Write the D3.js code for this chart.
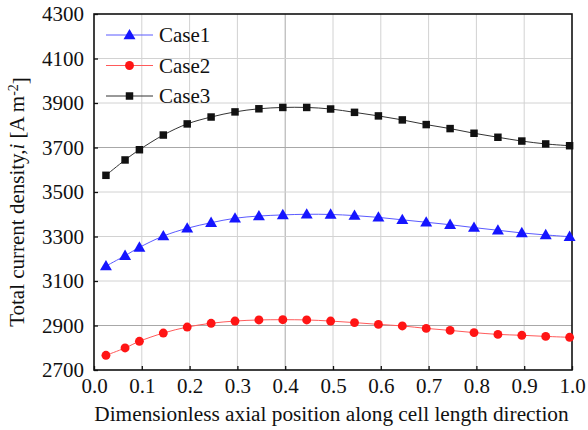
<!DOCTYPE html>
<meta charset="utf-8">
<script src="https://d3js.org/d3.v7.min.js"></script>
<style>
  body { margin: 0; background: #fff; }
  text { font-family: "Liberation Serif", "Times New Roman", serif; fill: #111; }
</style>
<div id="chart"></div>
<script>
// data
const xPos = [0.025, 0.065, 0.095, 0.145, 0.195, 0.245, 0.295, 0.345, 0.395, 0.445, 0.495,
              0.545, 0.595, 0.645, 0.695, 0.745, 0.795, 0.845, 0.895, 0.945, 0.995];
const case1 = [3167, 3214, 3251, 3302, 3337, 3362, 3382, 3392, 3397, 3400, 3399,
               3394, 3386, 3375, 3364, 3353, 3340, 3328, 3316, 3307, 3299];
const case2 = [2766, 2799, 2829, 2866, 2893, 2910, 2920, 2925, 2926, 2925, 2920,
               2913, 2905, 2898, 2887, 2878, 2868, 2860, 2856, 2851, 2847];
const case3 = [3575, 3644, 3690, 3756, 3806, 3837, 3860, 3874, 3880, 3880, 3873,
               3858, 3842, 3824, 3803, 3785, 3764, 3746, 3729, 3716, 3708];
const xTicks = [0, 0.1, 0.2, 0.3, 0.4, 0.5, 0.6, 0.7, 0.8, 0.9, 1.0];
const yTicks = [2700, 2900, 3100, 3300, 3500, 3700, 3900, 4100, 4300];
const seriesNames = ["Case1", "Case2", "Case3"];

let W = 588, H = 430;
let margin = {top: 14, right: 16, bottom: 60, left: 94};
let width = W - margin.left - margin.right,
    height = H - margin.top - margin.bottom;
let fs = "21px";

let svg = d3.select("#chart").append("svg")
    .attr("width", W).attr("height", H);
let g = svg.append("g")
    .attr("transform", "translate(" + margin.left + "," + margin.top + ")");

let x = d3.scaleLinear().domain([0, 1]).range([0, width]);
let y = d3.scaleLinear().domain([2700, 4300]).range([height, 0]);

// grid
g.append("g").selectAll("line").data(xTicks.slice(1, -1)).enter().append("line")
  .attr("x1", d => x(d)).attr("x2", d => x(d))
  .attr("y1", 0).attr("y2", height)
  .attr("stroke", d => d === 0.4 ? "#a8a8a8" : "#d2d2d2").attr("stroke-width", 1);
g.append("g").selectAll("line").data(yTicks.slice(1, -1)).enter().append("line")
  .attr("x1", 0).attr("x2", width)
  .attr("y1", d => y(d)).attr("y2", d => y(d))
  .attr("stroke", d => (d === 2900 || d === 3700) ? "#a8a8a8" : "#d2d2d2").attr("stroke-width", 1);

// axes, ticks pointing inward
let xAxis = g.append("g")
  .attr("transform", "translate(0," + height + ")")
  .call(d3.axisBottom(x).tickValues(xTicks).tickFormat(d3.format(".1f"))
        .tickSizeInner(-4).tickSizeOuter(0).tickPadding(8));
let yAxis = g.append("g")
  .call(d3.axisLeft(y).tickValues(yTicks).tickFormat(d3.format("d"))
        .tickSizeInner(-4).tickSizeOuter(0).tickPadding(10));
[xAxis, yAxis].forEach(a => {
  a.select(".domain").remove();
  a.selectAll("line").attr("stroke", "#111").attr("stroke-width", 1.3);
  a.selectAll("text").style("font-size", fs)
    .style("font-family", "'Liberation Serif', serif").attr("fill", "#111");
});
xAxis.selectAll("text").attr("dy", "0.72em");

// frame
g.append("rect").attr("width", width).attr("height", height)
  .attr("fill", "none").attr("stroke", "#111").attr("stroke-width", 1.6);

let colors = ["#1515ff", "#ff1515", "#111111"];
let lineColors = ["#5a5aff", "#ff5a5a", "#333333"];
let symbols = [d3.symbolTriangle, d3.symbolCircle, d3.symbolSquare];
let sizes = [62, 62, 56];
let data = [case1, case2, case3];

let line = d3.line().x((d, i) => x(xPos[i])).y(d => y(d)).curve(d3.curveCatmullRom);

data.forEach((vals, k) => {
  g.append("path").datum(vals)
    .attr("d", line).attr("fill", "none")
    .attr("stroke", lineColors[k]).attr("stroke-width", 1);
  g.append("g").selectAll("path").data(vals).enter().append("path")
    .attr("d", d3.symbol().type(symbols[k]).size(sizes[k]))
    .attr("transform", (d, i) => "translate(" + x(xPos[i]) + "," + (y(d) + (k === 0 ? 0.8 : 0)) + ")")
    .attr("fill", colors[k]);
});

// legend
let legend = g.append("g").attr("transform", "translate(12,21)");
seriesNames.forEach((name, k) => {
  let row = legend.append("g").attr("transform", "translate(0," + (k * 30.5) + ")");
  row.append("line").attr("x1", 0).attr("x2", 47)
    .attr("stroke", lineColors[k]).attr("stroke-width", 1);
  row.append("path").attr("d", d3.symbol().type(symbols[k]).size(sizes[k]))
    .attr("transform", "translate(23.5," + (k === 0 ? 0.8 : 0) + ")")
    .attr("fill", colors[k]);
  row.append("text").attr("x", 53).attr("y", 0).attr("dy", "0.35em")
    .style("font-size", fs).text(name);
});

// axis titles
svg.append("text")
  .attr("x", 331.5).attr("y", 421)
  .attr("text-anchor", "middle").style("font-size", "21.3px")
  .text("Dimensionless axial position along cell length direction");

let yt = svg.append("text")
  .attr("transform", "translate(24,202) rotate(-90)")
  .attr("text-anchor", "middle").style("font-size", fs);
yt.append("tspan").text("Total current density,");
yt.append("tspan").style("font-style", "italic").text("i");
yt.append("tspan").text(" [A m");
yt.append("tspan").attr("dy", "-0.45em").style("font-size", "14px").text("-2");
yt.append("tspan").attr("dy", "0.45em").text("]");
</script>
